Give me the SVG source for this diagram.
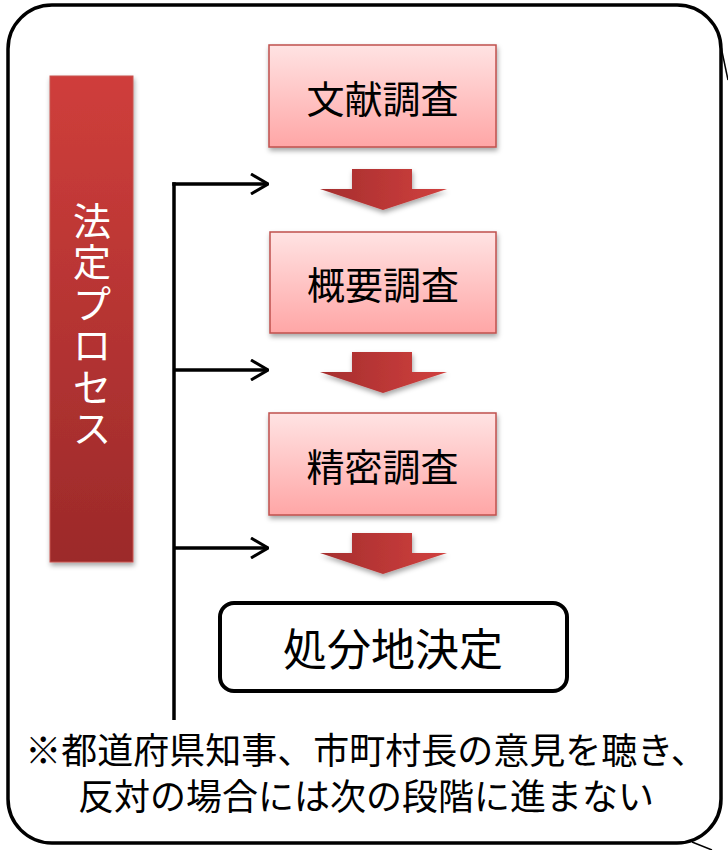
<svg xmlns="http://www.w3.org/2000/svg" width="728" height="850" viewBox="0 0 728 850">
<defs>
  <linearGradient id="boxGrad" x1="0" y1="0" x2="0" y2="1">
    <stop offset="0" stop-color="#ffe3e3"/>
    <stop offset="1" stop-color="#ffa6a6"/>
  </linearGradient>
  <linearGradient id="barGrad" x1="0" y1="0" x2="0" y2="1">
    <stop offset="0" stop-color="#cf3e3b"/>
    <stop offset="1" stop-color="#9c2a2a"/>
  </linearGradient>
  <linearGradient id="arrowGrad" x1="0" y1="0" x2="1" y2="0">
    <stop offset="0" stop-color="#a52e2e"/>
    <stop offset="1" stop-color="#d0403e"/>
  </linearGradient>
  <filter id="shadow" x="-10%" y="-10%" width="130%" height="140%">
    <feDropShadow dx="1" dy="3" stdDeviation="2.5" flood-color="#000" flood-opacity="0.35"/>
  </filter>
  <marker id="chev" viewBox="0 0 20 22" refX="19" refY="11" markerWidth="20" markerHeight="22" markerUnits="userSpaceOnUse" orient="auto">
    <polyline points="2,1 19,11 2,21" fill="none" stroke="#000" stroke-width="3"/>
  </marker>
  <style>
    .jp { font-family: "Noto Sans CJK JP", "Noto Sans", sans-serif; }
    .step rect { fill: url(#boxGrad); stroke: #c0504d; stroke-width: 1.5; filter: url(#shadow); }
    .step text { font-size: 38px; fill: #000; text-anchor: middle; dominant-baseline: central; }
    .bar text { font-size: 38px; fill: #fff; text-anchor: middle; dominant-baseline: central; }
    .fat { fill: url(#arrowGrad); filter: url(#shadow); }
    .conn line { stroke: #000; stroke-width: 3.5; fill: none; }
    .note { font-size: 36px; fill: #000; text-anchor: middle; }
  </style>
</defs>
<rect width="728" height="850" fill="#fff"/>

<!-- outer callout frame -->
<g id="frame">
  <rect x="8" y="5" width="713" height="838" rx="44" ry="44" fill="none" stroke="#000" stroke-width="3.5"/>
  <line x1="720" y1="42" x2="728" y2="80" stroke="#000" stroke-width="1.5"/>
  <line x1="692" y1="842" x2="712" y2="850" stroke="#000" stroke-width="1.5"/>
</g>

<!-- vertical bar -->
<g id="legal-process" class="bar jp">
  <rect x="50" y="76" width="83" height="486" fill="url(#barGrad)" stroke="#c85450" stroke-width="1" filter="url(#shadow)"/>
  <text x="92" y="218">法</text>
  <text x="92" y="259">定</text>
  <text x="92" y="301">プ</text>
  <text x="92" y="342">ロ</text>
  <text x="92" y="384">セ</text>
  <text x="92" y="425">ス</text>
</g>

<g id="step1" class="step jp">
  <rect x="269" y="45" width="227" height="102"/>
  <text x="382.5" y="96">文献調査</text>
</g>
<g id="step2" class="step jp">
  <rect x="270" y="232" width="226" height="101"/>
  <text x="383" y="282.5">概要調査</text>
</g>
<g id="step3" class="step jp">
  <rect x="269" y="413" width="227" height="102"/>
  <text x="382.5" y="464">精密調査</text>
</g>

<g id="decision" class="jp">
  <rect x="220" y="603" width="347" height="88" rx="14" ry="14" fill="#fff" stroke="#000" stroke-width="4"/>
  <text x="393" y="647" font-size="44" text-anchor="middle" dominant-baseline="central" fill="#000">処分地決定</text>
</g>

<!-- fat down arrows -->
<g id="flow-arrows">
  <polygon class="fat" points="352,169 412,169 412,189 447,189 383,210 320,189 352,189"/>
  <polygon class="fat" points="352,352 412,352 412,372 447,372 383,393 320,372 352,372"/>
  <polygon class="fat" points="352,533 412,533 412,553 447,553 383,574 320,553 352,553"/>
</g>

<!-- connectors -->
<g id="connectors" class="conn">
  <line x1="174" y1="182.3" x2="174" y2="720"/>
  <line x1="172.3" y1="184" x2="268" y2="184" marker-end="url(#chev)"/>
  <line x1="174" y1="370" x2="268" y2="370" marker-end="url(#chev)"/>
  <line x1="174" y1="548" x2="268" y2="548" marker-end="url(#chev)"/>
</g>

<g id="note" class="jp">
  <text class="note" x="366" y="764">※都道府県知事、市町村長の意見を聴き、</text>
  <text class="note" x="366" y="810">反対の場合には次の段階に進まない</text>
</g>
</svg>
